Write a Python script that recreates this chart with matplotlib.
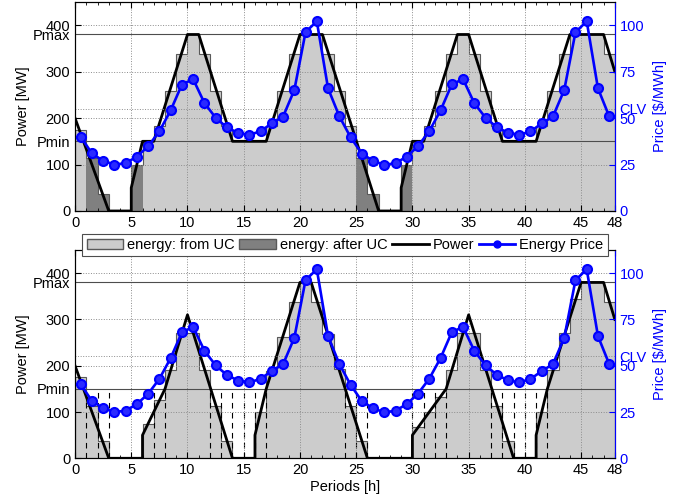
import numpy as np
import matplotlib
matplotlib.use("Agg")
import matplotlib.pyplot as plt
from matplotlib.patches import Patch
from matplotlib.lines import Line2D

plt.rcParams["font.family"] = ["Liberation Sans", "DejaVu Sans"]
plt.rcParams["font.size"] = 10.5

# --- data ---
edges = np.arange(49)            # hourly periods 0..48
price_t = np.arange(48) + 0.5    # price points at the middle of each hour

price = [40, 31, 27, 25, 25.7, 29.3, 34.8, 42.9, 54.1, 68, 71, 58.2,
         50.2, 45, 42, 41, 42.9, 47.2, 50.8, 65.1, 96.3, 102.1, 66, 51,
         39.7, 30.9, 27, 24.8, 25.7, 29.3, 34.9, 43, 54.1, 68.1, 71, 58.1,
         50.2, 45.1, 42.1, 41, 42.8, 47.1, 50.9, 65.1, 96.2, 102.1, 66, 50.9]

pmin = 150
pmax = 380
clv = 55

# top panel: energy from UC (light) and energy after UC (dark)
top_uc = [175, 0, 0, 0, 0, 0, 150, 184, 259, 337, 380, 337,
          259, 184, 150, 150, 150, 184, 259, 337, 380, 380, 337, 259,
          184, 0, 0, 0, 0, 0, 150, 184, 259, 337, 380, 337,
          259, 184, 150, 150, 150, 184, 259, 337, 380, 380, 380, 337]
top_after = [0, 113, 37, 0, 0, 100, 0, 0, 0, 0, 0, 0,
             0, 0, 0, 0, 0, 0, 0, 0, 0, 0, 0, 0,
             0, 113, 37, 0, 0, 100, 0, 0, 0, 0, 0, 0,
             0, 0, 0, 0, 0, 0, 0, 0, 0, 0, 0, 0]
top_power_t = [0, 3, 5, 5, 6, 7, 10, 11, 14, 17, 20, 22, 27, 29, 29, 30,
               31, 34, 35, 38, 41, 44, 47, 48]
top_power = [200, 0, 0, 50, 150, 150, 380, 380, 150, 150, 380, 380, 0, 0, 50, 150,
             150, 380, 380, 150, 150, 380, 380, 300]

# bottom panel
bot_uc = [175, 112, 37, 0, 0, 0, 75, 125, 191, 270, 270, 191,
          113, 37, 0, 0, 100, 188, 262, 338, 380, 338, 268, 192,
          113, 37, 0, 0, 0, 0, 67, 100, 133, 190, 271, 271,
          190, 114, 37, 0, 0, 100, 190, 270, 345, 380, 380, 338]
bot_after = [0] * 48
bot_power_t = [0, 3, 6, 6, 8, 10, 14, 16, 16, 17, 20, 21, 26, 30, 30, 33,
               35, 39, 41, 41, 42, 45, 47, 48]
bot_power = [200, 0, 0, 50, 150, 310, 0, 0, 50, 150, 380, 380, 0, 0, 50, 150,
             310, 0, 0, 50, 150, 380, 380, 300]
bot_dashes = [1, 2, 3, 7, 8, 12, 13, 14, 15, 16, 17, 24, 25, 26,
              30, 31, 32, 33, 37, 38, 39, 40, 41, 42]

light = "0.8"
dark = "0.5"
edge = "0.35"
gridc = "0.55"


def draw_panel(ax, uc, after, pt, pw, dashes, xlabel=None):
    uc = np.array(uc, dtype=float)
    after = np.array(after, dtype=float)
    ax.stairs(uc, edges, fill=True, color=light, zorder=1)
    ax.stairs(after, edges, fill=True, color=dark, zorder=1)
    ax.stairs(uc + after, edges, color=edge, lw=0.8, zorder=1.2)
    for d in dashes:
        ax.plot([d, d], [0, pmin], ls=(0, (5, 4)), color="k", lw=0.8, zorder=1.5)
    ax.axhline(pmin, color="0.3", lw=0.8, zorder=2.6)
    ax.axhline(pmax, color="0.3", lw=0.8, zorder=2.6)
    ax.plot(pt, pw, color="k", lw=2.0, zorder=3)

    ax.set_xlim(0, 48)
    ax.set_ylim(0, 450)
    ax.set_xticks([0, 5, 10, 15, 20, 25, 30, 35, 40, 45, 48])
    ax.set_xticks(edges, minor=True)
    ax.set_yticks([0, 100, 200, 300, 400])
    ax.set_yticks([pmin, pmax], ["Pmin", "Pmax"], minor=True)
    ax.set_axisbelow(False)
    ax.grid(True, which="major", ls=":", color=gridc, lw=0.7)
    ax.tick_params(which="both", direction="in", top=True)
    ax.tick_params(which="major", length=4)
    ax.tick_params(axis="x", which="minor", length=2.5)
    ax.tick_params(axis="y", which="minor", length=0, pad=3.5)
    ax.set_ylabel("Power [MW]", labelpad=2)
    if xlabel:
        ax.set_xlabel(xlabel, labelpad=2)

    ax2 = ax.twinx()
    ax2.set_ylim(0, 112.5)
    ax2.plot(price_t, price, color="blue", lw=1.9, marker="o", ms=6.5,
             mfc="#2a2aff", mec="blue", mew=1.5, zorder=4)
    ax2.axhline(clv, ls=":", color=gridc, lw=0.7)
    ax2.set_yticks([0, 25, 50, 75, 100])
    ax2.set_yticks([clv], ["CLV"], minor=True)
    ax2.tick_params(axis="y", which="both", direction="in", colors="blue")
    ax2.tick_params(axis="y", which="major", length=4)
    ax2.tick_params(axis="y", which="minor", length=0, pad=3.5)
    ax2.spines["right"].set_color("blue")
    ax2.set_ylabel(r"Price [\$/MWh]", color="blue", rotation=90, labelpad=4)
    return ax2


fig = plt.figure(figsize=(6.79, 4.97), dpi=100)
ax_top = fig.add_axes([0.1105, 0.5755, 0.795, 0.4205])
ax_bot = fig.add_axes([0.1105, 0.0779, 0.795, 0.419])

draw_panel(ax_top, top_uc, top_after, top_power_t, top_power, [])
draw_panel(ax_bot, bot_uc, bot_after, bot_power_t, bot_power, bot_dashes,
           xlabel="Periods [h]")

handles = [
    Patch(facecolor=light, edgecolor=edge, label="energy: from UC"),
    Patch(facecolor=dark, edgecolor=edge, label="energy: after UC"),
    Line2D([], [], color="k", lw=2, label="Power"),
    Line2D([], [], color="blue", lw=2, marker="o", ms=5, mfc="blue",
           label="Energy Price"),
]
leg = fig.legend(handles=handles, loc="center", bbox_to_anchor=(0.508, 0.507),
                 ncol=4, fancybox=False, framealpha=1, edgecolor="0.3",
                 handlelength=2.5, handletextpad=0.25, columnspacing=0.35,
                 borderpad=0.3, borderaxespad=0)
leg.get_frame().set_linewidth(0.8)

fig.savefig("out.png", dpi=100)
